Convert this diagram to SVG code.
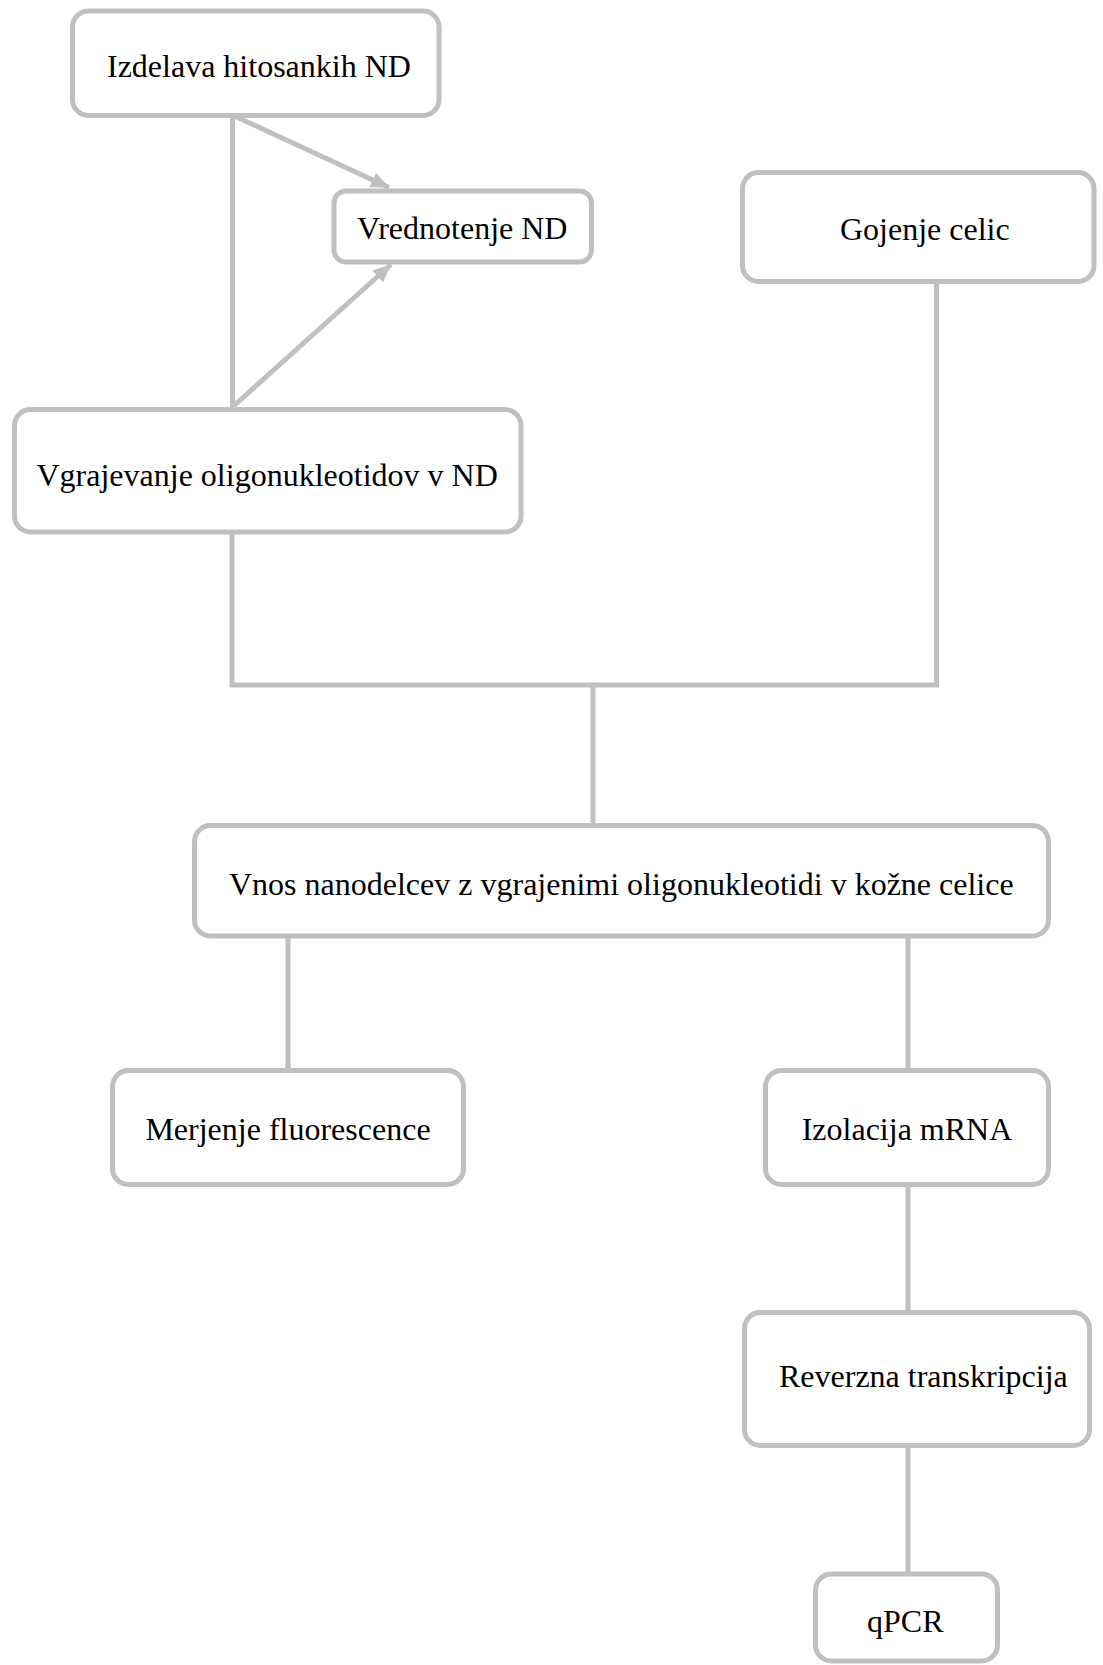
<svg xmlns="http://www.w3.org/2000/svg" width="1103" height="1665" viewBox="0 0 1103 1665">
<style>
.box{fill:#ffffff;stroke:#c0c0c0;stroke-width:5}
.ln{fill:none;stroke:#c0c0c0;stroke-width:5;stroke-linecap:butt;stroke-linejoin:miter}
.t{font-family:"Liberation Serif","Times New Roman",serif;font-size:32px;fill:#000000}
</style>
<defs>
<marker id="ah" markerUnits="userSpaceOnUse" markerWidth="20" markerHeight="20" viewBox="0 0 20 20" refX="18" refY="10" orient="auto">
<path d="M0,2 L18,10 L0,18 z" fill="#c0c0c0"/>
</marker>
</defs>
<rect width="1103" height="1665" fill="#ffffff"/>
<g id="connectors">
<line class="ln" x1="232.5" y1="115" x2="232.5" y2="409"/>
<line class="ln" x1="232.5" y1="115" x2="389" y2="187.5" stroke-width="4.5" marker-end="url(#ah)"/>
<line class="ln" x1="232.5" y1="407" x2="391" y2="264.5" stroke-width="4.5" marker-end="url(#ah)"/>
<polyline class="ln" points="232,532 232,685 936.5,685 936.5,281"/>
<line class="ln" x1="593" y1="685" x2="593" y2="826"/>
<line class="ln" x1="288" y1="936" x2="288" y2="1071"/>
<line class="ln" x1="908" y1="936" x2="908" y2="1071"/>
<line class="ln" x1="908" y1="1184" x2="908" y2="1313"/>
<line class="ln" x1="908" y1="1445" x2="908" y2="1575"/>
</g>
<g id="n1">
<rect class="box" x="72.5" y="11" width="366.5" height="104.5" rx="16"/>
<text class="t" x="107" y="76.5">Izdelava hitosankih ND</text>
</g>
<g id="n2">
<rect class="box" x="334" y="191" width="257.5" height="71" rx="12"/>
<text class="t" x="357" y="239">Vrednotenje ND</text>
</g>
<g id="n3">
<rect class="box" x="742.5" y="172.5" width="351.5" height="109" rx="16"/>
<text class="t" x="840" y="240">Gojenje celic</text>
</g>
<g id="n4">
<rect class="box" x="14.5" y="409.5" width="506.5" height="122.5" rx="16"/>
<text class="t" x="36.5" y="486">Vgrajevanje oligonukleotidov v ND</text>
</g>
<g id="n5">
<rect class="box" x="194.5" y="825.5" width="854" height="110.5" rx="16"/>
<text class="t" x="229" y="895">Vnos nanodelcev z vgrajenimi oligonukleotidi v kožne celice</text>
</g>
<g id="n6">
<rect class="box" x="112.5" y="1070.5" width="351" height="114" rx="16"/>
<text class="t" x="288" y="1140" text-anchor="middle">Merjenje fluorescence</text>
</g>
<g id="n7">
<rect class="box" x="765.5" y="1070.5" width="283" height="114" rx="16"/>
<text class="t" x="907" y="1140" text-anchor="middle">Izolacija mRNA</text>
</g>
<g id="n8">
<rect class="box" x="744.5" y="1312.5" width="345" height="133" rx="16"/>
<text class="t" x="779" y="1387">Reverzna transkripcija</text>
</g>
<g id="n9">
<rect class="box" x="815.5" y="1574" width="182" height="87" rx="16"/>
<text class="t" x="867" y="1632">qPCR</text>
</g>
</svg>
